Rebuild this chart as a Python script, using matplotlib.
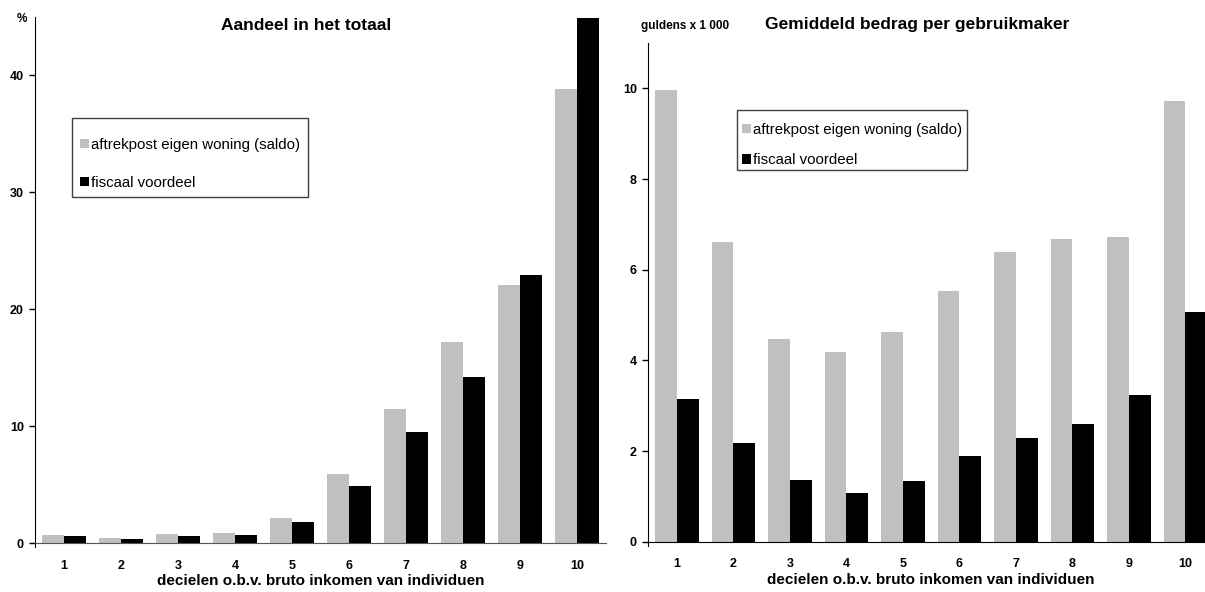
import numpy as np
import matplotlib
matplotlib.use("Agg")
import matplotlib.pyplot as plt
from matplotlib.patches import Rectangle

plt.rcParams['font.family'] = ['Liberation Sans', 'DejaVu Sans']

decielen = np.arange(1, 11)
labels = ['aftrekpost eigen woning (saldo)', 'fiscaal voordeel']

# aandeel in het totaal (%)
aandeel_aftrek = [0.7, 0.45, 0.8, 0.85, 2.1, 5.9, 11.45, 17.2, 22.05, 38.8]
aandeel_voordeel = [0.6, 0.35, 0.6, 0.7, 1.8, 4.9, 9.5, 14.2, 22.9, 44.9]

# gemiddeld bedrag per gebruikmaker (guldens x 1 000)
bedrag_aftrek = [9.96, 6.6, 4.48, 4.19, 4.63, 5.52, 6.38, 6.67, 6.73, 9.72]
bedrag_voordeel = [3.15, 2.18, 1.36, 1.08, 1.34, 1.89, 2.29, 2.6, 3.24, 5.07]

GRAY = '#c0c0c0'
W, H = 1205, 592
fig = plt.figure(figsize=(W / 100, H / 100), dpi=100)


def px(x0, y0, x1, y1):
    # pixel box (top-left origin) -> figure fraction rect
    return [x0 / W, 1 - y1 / H, (x1 - x0) / W, (y1 - y0) / H]


def draw(ax, a, b, ymax, yticks, below):
    w = 0.385
    ax.bar(decielen - w, a, width=w, align='edge', color=GRAY, label=labels[0])
    ax.bar(decielen, b, width=w, align='edge', color='black', label=labels[1])
    ax.set_xlim(0.49, 10.5)
    ax.set_ylim(0, ymax)
    ax.set_yticks(yticks)
    ax.set_xticks(decielen)
    ax.spines['top'].set_visible(False)
    ax.spines['right'].set_visible(False)
    ax.spines['left'].set_bounds(-below, ymax)
    ax.tick_params(axis='x', length=0, pad=12)
    ax.tick_params(axis='y', length=4, width=1, pad=4)
    for t in ax.get_xticklabels() + ax.get_yticklabels():
        t.set_fontweight('bold')
        t.set_fontsize(9)
    ax.set_xlabel('decielen o.b.v. bruto inkomen van individuen',
                  fontsize=11, fontweight='bold', labelpad=2)


def legend(ax, handle_xy, spacing, box):
    ax.legend(loc='upper left', bbox_to_anchor=(handle_xy[0] / W, 1 - handle_xy[1] / H),
              bbox_transform=fig.transFigure, borderaxespad=0, borderpad=0,
              fontsize=10.8, handlelength=0.6, handleheight=0.6,
              handletextpad=0.15, labelspacing=spacing, frameon=False)
    x0, y0, x1, y1 = box
    fig.patches.append(Rectangle((x0 / W, 1 - y1 / H), (x1 - x0) / W, (y1 - y0) / H,
                                 transform=fig.transFigure, fill=False,
                                 edgecolor='#404040', linewidth=1))


ax1 = fig.add_axes(px(35, 17, 605.6, 543))
draw(ax1, aandeel_aftrek, aandeel_voordeel, 45, [0, 10, 20, 30, 40], 0.35)
ax1.spines['bottom'].set_color('#555555')
legend(ax1, (80, 138), 1.6, (72, 118, 308, 197))

ax2 = fig.add_axes(px(648, 43, 1213.6, 541.7))
draw(ax2, bedrag_aftrek, bedrag_voordeel, 11, [0, 2, 4, 6, 8, 10], 0.1)
legend(ax2, (742, 123), 1.1, (737, 110, 967, 170))

fig.text(306 / W, 1 - 25 / H, 'Aandeel in het totaal', ha='center', va='center',
         fontsize=12.5, fontweight='bold')
fig.text(917 / W, 1 - 25 / H, 'Gemiddeld bedrag per gebruikmaker', ha='center',
         va='center', fontsize=12.5, fontweight='bold')
fig.text(22 / W, 1 - 19 / H, '%', ha='center', va='center', fontsize=8.5,
         fontweight='bold')
fig.text(685 / W, 1 - 26 / H, 'guldens x 1 000', ha='center', va='center',
         fontsize=8.5, fontweight='bold')

fig.savefig('out.png', dpi=100)
